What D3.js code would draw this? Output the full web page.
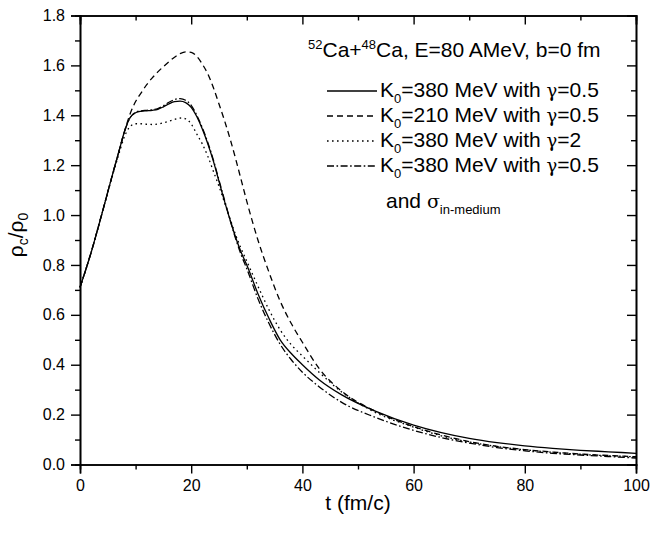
<!DOCTYPE html>
<html>
<head>
<meta charset="utf-8">
<script src="https://cdn.jsdelivr.net/npm/d3@7"></script>
<style>
  html, body { margin: 0; padding: 0; background: #fff; }
  svg { display: block; font-family: "Liberation Sans", Arial, sans-serif; }
</style>
</head>
<body>
<svg id="chart" width="652" height="533"></svg>
<script>
// ---- data ----
const tValues = [0, 2, 4, 6, 7, 8, 9, 10, 11, 12, 13, 14, 15, 16, 17, 18, 19, 20, 21, 22, 23, 24, 25, 26, 27, 28, 29, 30, 32, 34, 36, 38, 40, 43, 47, 53, 60, 65, 70, 75, 80, 85, 90, 95, 100];

const k380g05 = [0.71, 0.85, 1.01, 1.175, 1.255, 1.335, 1.39, 1.41, 1.416, 1.418, 1.42, 1.424, 1.434, 1.446, 1.455, 1.457, 1.451, 1.432, 1.395, 1.345, 1.285, 1.215, 1.135, 1.055, 0.98, 0.91, 0.85, 0.80, 0.685, 0.585, 0.50, 0.445, 0.40, 0.34, 0.28, 0.215, 0.158, 0.128, 0.105, 0.088, 0.075, 0.065, 0.057, 0.051, 0.045];

const k210g05 = [0.71, 0.85, 1.01, 1.175, 1.255, 1.335, 1.405, 1.455, 1.49, 1.523, 1.55, 1.574, 1.595, 1.615, 1.633, 1.647, 1.654, 1.652, 1.636, 1.605, 1.565, 1.51, 1.445, 1.378, 1.305, 1.225, 1.14, 1.055, 0.90, 0.77, 0.655, 0.565, 0.49, 0.385, 0.295, 0.215, 0.152, 0.118, 0.092, 0.073, 0.06, 0.05, 0.042, 0.036, 0.031];

const k380g2 = [0.71, 0.85, 1.01, 1.17, 1.245, 1.315, 1.355, 1.366, 1.366, 1.364, 1.363, 1.365, 1.37, 1.376, 1.383, 1.389, 1.386, 1.365, 1.325, 1.285, 1.235, 1.175, 1.115, 1.05, 0.985, 0.92, 0.865, 0.815, 0.715, 0.62, 0.54, 0.48, 0.435, 0.37, 0.292, 0.21, 0.15, 0.115, 0.09, 0.072, 0.059, 0.049, 0.041, 0.035, 0.031];

const k380g05med = [0.71, 0.85, 1.01, 1.175, 1.255, 1.335, 1.39, 1.412, 1.418, 1.42, 1.422, 1.427, 1.438, 1.452, 1.463, 1.467, 1.46, 1.44, 1.40, 1.35, 1.29, 1.22, 1.14, 1.06, 0.98, 0.905, 0.84, 0.785, 0.665, 0.565, 0.482, 0.42, 0.37, 0.312, 0.25, 0.19, 0.137, 0.108, 0.086, 0.068, 0.055, 0.045, 0.038, 0.032, 0.026];

const xTicks = [0, 20, 40, 60, 80, 100];
const yTicks = [0.0, 0.2, 0.4, 0.6, 0.8, 1.0, 1.2, 1.4, 1.6, 1.8];

const seriesK = ["380", "210", "380", "380"];
const seriesGamma = ["0.5", "0.5", "2", "0.5"];
const seriesDash = ["", "6,4", "1.6,3.4", "7,2.5,1.6,2.5"];
const seriesData = [k380g05, k210g05, k380g2, k380g05med];

// ---- layout ----
const svg = d3.select("#chart");
const L = 80, R = 636, T = 15.5, B = 464.5;
const x = d3.scaleLinear().domain([0, 100]).range([L, R]);
const y = d3.scaleLinear().domain([0, 1.8]).range([B, T]);

const minorX = d3.range(0, 101, 10).filter(v => v % 20 !== 0);
const minorY = d3.range(1, 18, 2).map(v => v / 10);

function styleAxis(g) {
  g.selectAll(".domain").attr("stroke", "#000").attr("stroke-width", 1.6);
  g.selectAll(".tick line").attr("stroke", "#000").attr("stroke-width", 1.4);
  g.selectAll(".tick text").attr("fill", "#000").attr("font-size", 16)
    .attr("font-family", "'Liberation Sans', Arial, sans-serif");
}

// bottom
const gb = svg.append("g").attr("transform", `translate(0,${B})`)
  .call(d3.axisBottom(x).tickValues(xTicks).tickSize(9).tickPadding(6).tickFormat(d3.format("d")));
styleAxis(gb);
const gbm = svg.append("g").attr("transform", `translate(0,${B})`)
  .call(d3.axisBottom(x).tickValues(minorX).tickSize(5).tickFormat(""));
styleAxis(gbm);

// top
const gt = svg.append("g").attr("transform", `translate(0,${T})`)
  .call(d3.axisTop(x).tickValues(xTicks).tickSize(-9).tickFormat(""));
styleAxis(gt);
const gtm = svg.append("g").attr("transform", `translate(0,${T})`)
  .call(d3.axisTop(x).tickValues(minorX).tickSize(-5).tickFormat(""));
styleAxis(gtm);

// left
const gl = svg.append("g").attr("transform", `translate(${L},0)`)
  .call(d3.axisLeft(y).tickValues(yTicks).tickSize(9).tickPadding(6).tickFormat(d3.format(".1f")));
styleAxis(gl);
const glm = svg.append("g").attr("transform", `translate(${L},0)`)
  .call(d3.axisLeft(y).tickValues(minorY).tickSize(5).tickFormat(""));
styleAxis(glm);

// right
const gr = svg.append("g").attr("transform", `translate(${R},0)`)
  .call(d3.axisRight(y).tickValues(yTicks).tickSize(-9).tickFormat(""));
styleAxis(gr);
const grm = svg.append("g").attr("transform", `translate(${R},0)`)
  .call(d3.axisRight(y).tickValues(minorY).tickSize(-5).tickFormat(""));
styleAxis(grm);

// ---- lines ----
const line = d3.line()
  .x((d, i) => x(tValues[i]))
  .y(d => y(d))
  .curve(d3.curveMonotoneX);

seriesData.forEach((vals, i) => {
  svg.append("path")
    .datum(vals)
    .attr("d", line)
    .attr("fill", "none")
    .attr("stroke", "#000")
    .attr("stroke-width", 1.3)
    .attr("stroke-dasharray", seriesDash[i] || null);
});

// ---- axis titles ----
svg.append("text")
  .attr("x", (L + R) / 2).attr("y", 510)
  .attr("text-anchor", "middle").attr("font-size", 21)
  .text("t (fm/c)");

const yt = svg.append("text")
  .attr("transform", "translate(23,235) rotate(-90)")
  .attr("text-anchor", "middle").attr("font-size", 21);
yt.append("tspan").text("ρ");
yt.append("tspan").attr("font-size", 14).attr("dy", 5).text("c");
yt.append("tspan").attr("dy", -5).text("/ρ");
yt.append("tspan").attr("font-size", 14).attr("dy", 5).text("0");

// ---- legend ----
const title = svg.append("text").attr("x", 308).attr("y", 57).attr("font-size", 21);
title.append("tspan").attr("font-size", 13).attr("dy", -8).text("52");
title.append("tspan").attr("dy", 8).text("Ca+");
title.append("tspan").attr("font-size", 13).attr("dy", -8).text("48");
title.append("tspan").attr("dy", 8).text("Ca, E=80 AMeV, b=0 fm");

const rowY = [97, 122, 147, 172];
seriesData.forEach((vals, i) => {
  const yy = rowY[i];
  svg.append("line")
    .attr("x1", 327).attr("x2", 377)
    .attr("y1", yy - 6).attr("y2", yy - 6)
    .attr("stroke", "#000").attr("stroke-width", 1.3)
    .attr("stroke-dasharray", seriesDash[i] || null);
  const t = svg.append("text").attr("x", 380).attr("y", yy).attr("font-size", 21);
  t.append("tspan").text("K");
  t.append("tspan").attr("font-size", 13).attr("dy", 6).text("0");
  t.append("tspan").attr("dy", -6).text("=" + seriesK[i] + " MeV with ");
  t.append("tspan").attr("font-family", "'DejaVu Serif', serif").attr("font-size", 18).text("γ");
  t.append("tspan").text("=" + seriesGamma[i]);
});
const extra = svg.append("text").attr("x", 386).attr("y", 208).attr("font-size", 21);
extra.append("tspan").text("and ");
extra.append("tspan").attr("font-family", "'DejaVu Serif', serif").attr("font-size", 19).text("σ");
extra.append("tspan").attr("font-size", 13).attr("dy", 6).text("in-medium");
</script>
</body>
</html>
